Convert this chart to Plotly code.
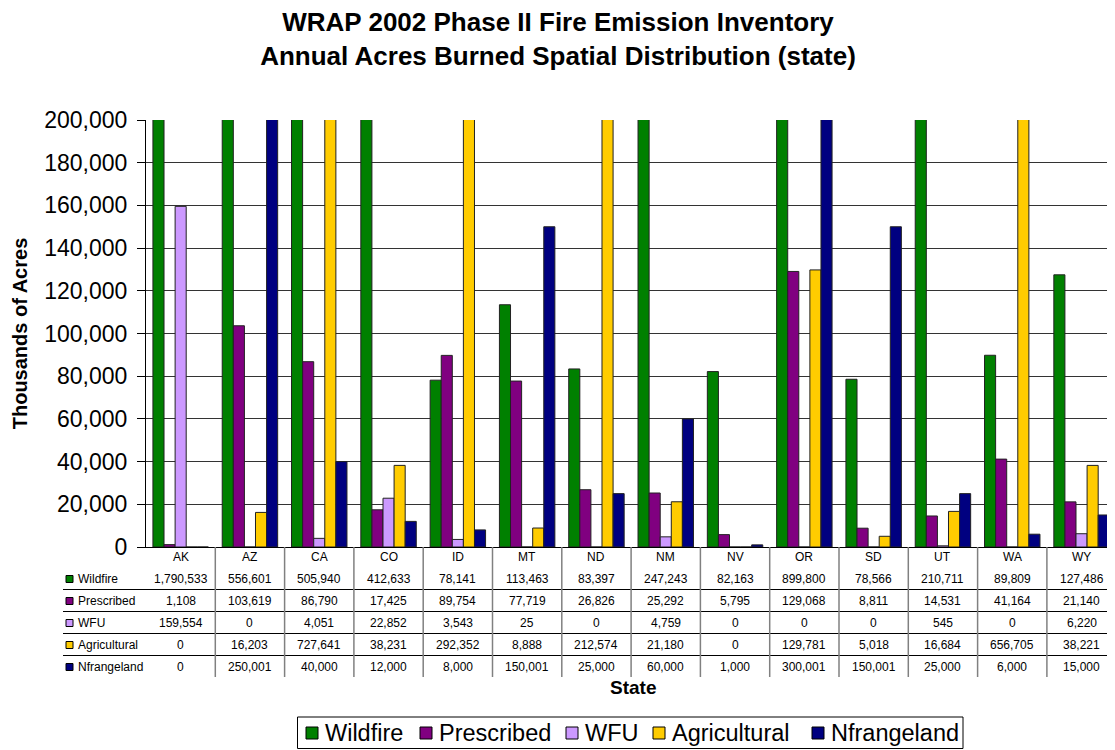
import plotly.graph_objects as go

states = ["AK", "AZ", "CA", "CO", "ID", "MT", "ND", "NM", "NV", "OR", "SD", "UT", "WA", "WY"]
wildfire = [1790533, 556601, 505940, 412633, 78141, 113463, 83397, 247243, 82163, 899800, 78566, 210711, 89809, 127486]
prescribed = [1108, 103619, 86790, 17425, 89754, 77719, 26826, 25292, 5795, 129068, 8811, 14531, 41164, 21140]
wfu = [159554, 0, 4051, 22852, 3543, 25, 0, 4759, 0, 0, 0, 545, 0, 6220]
agricultural = [0, 16203, 727641, 38231, 292352, 8888, 212574, 21180, 0, 129781, 5018, 16684, 656705, 38221]
nfrangeland = [0, 250001, 40000, 12000, 8000, 150001, 25000, 60000, 1000, 300001, 150001, 25000, 6000, 15000]

series_names = ["Wildfire", "Prescribed", "WFU", "Agricultural", "Nfrangeland"]
series_values = [wildfire, prescribed, wfu, agricultural, nfrangeland]
series_colors = ["#008000", "#800080", "#CC99FF", "#FFCC00", "#000080"]
y_ticks = [0, 20000, 40000, 60000, 80000, 100000, 120000, 140000, 160000, 180000, 200000]

FONT = "Liberation Sans, Arial, sans-serif"
OFF = 8                      # page body margin of the html page
W, H = 1115 - OFF, 750 - OFF
ML = 146 - OFF
MT = 120 - OFF
MB = H - (547 - OFF)
PLOT_H = H - MT - MB
PLOT_W = W - ML

def py(pix):
    # reference pixel y -> paper y
    return (547 - pix) / PLOT_H

def px(pix):
    # reference pixel x -> paper x
    return (pix - 146) / PLOT_W

fig = go.Figure()
x_idx = list(range(len(states)))
for name, vals, col in zip(series_names, series_values, series_colors):
    fig.add_trace(go.Bar(
        x=x_idx, y=vals, name=name,
        marker=dict(color=col, line=dict(color="#222222", width=1)),
        showlegend=False,
    ))

cat_w = 69.3
x_max = -0.5 + (1115 - 146) / cat_w

fig.update_layout(
    width=W, height=H,
    margin=dict(l=ML, r=0, t=MT, b=MB, pad=0, autoexpand=False),
    paper_bgcolor="white", plot_bgcolor="white",
    barmode="group", bargap=0.2, bargroupgap=0,
    font=dict(family=FONT, color="black"),
    title=dict(
        text="<b>WRAP 2002 Phase II Fire Emission Inventory<br>Annual Acres Burned Spatial Distribution (state)</b>",
        x=(558 - OFF) / W, xanchor="center", xref="container",
        y=1 - 23 / H, yanchor="top", yref="container",
        font=dict(size=26, family=FONT, color="black"),
    ),
    xaxis=dict(
        range=[-0.5, x_max], showticklabels=False, showgrid=False,
        showline=True, linecolor="black", linewidth=1, ticks="", zeroline=False,
    ),
    yaxis=dict(
        range=[0, 200000], tickvals=y_ticks, tickformat=",d",
        showgrid=True, gridcolor="#333333", gridwidth=1,
        showline=True, linecolor="black", linewidth=1,
        ticks="outside", ticklen=8, tickcolor="black",
        tickfont=dict(size=23, family=FONT, color="black"),
        ticklabelstandoff=5,
        zeroline=False,
        title=dict(text="<b>Thousands of Acres</b>", font=dict(size=20, family=FONT, color="black"), standoff=11),
    ),
    showlegend=False,
)

annotations = []
shapes = []
tfont = dict(size=12, family=FONT, color="black")

# State header row
for i, s in enumerate(states):
    annotations.append(dict(x=i, y=py(557), xref="x", yref="paper", text=s, showarrow=False,
                            font=tfont, xanchor="center", yanchor="middle"))

row_centers = [579, 601, 623, 645, 667]
for r, (name, vals, col) in enumerate(zip(series_names, series_values, series_colors)):
    yc = py(row_centers[r])
    annotations.append(dict(x=px(76), y=yc, xref="paper", yref="paper", text=name, showarrow=False,
                            font=tfont, xanchor="left", yanchor="middle"))
    shapes.append(dict(type="rect", xref="paper", yref="paper",
                       x0=px(66), x1=px(73), y0=py(row_centers[r] + 3.5), y1=py(row_centers[r] - 3.5),
                       fillcolor=col, line=dict(color="black", width=1)))
    for i, v in enumerate(vals):
        annotations.append(dict(x=i, y=yc, xref="x", yref="paper", text=f"{v:,}", showarrow=False,
                                font=tfont, xanchor="center", yanchor="middle"))

# Table horizontal lines
for ly in [589.5, 611.5, 633.5, 655.5]:
    shapes.append(dict(type="line", xref="paper", yref="paper", x0=px(63), x1=1, y0=py(ly), y1=py(ly),
                       line=dict(color="black", width=1)))
# Table vertical lines at category boundaries
for i in range(len(states) - 1):
    shapes.append(dict(type="line", xref="x", yref="paper", x0=i + 0.5, x1=i + 0.5, y0=0, y1=py(677),
                       line=dict(color="#808080", width=1.5)))

annotations.append(dict(x=px(633), y=py(687), xref="paper", yref="paper", text="<b>State</b>", showarrow=False,
                        font=dict(size=19, family=FONT, color="black"), xanchor="center", yanchor="middle"))

# Legend box (series names and colours from the data lists)
legend_item_x = [306, 420, 566, 653, 812]
leg_y = 733
shapes.append(dict(type="rect", xref="paper", yref="paper", x0=px(297.5), x1=px(963), y0=py(717), y1=py(748.5),
                   fillcolor="white", line=dict(color="black", width=1), layer="below"))
for name, col, lx in zip(series_names, series_colors, legend_item_x):
    shapes.append(dict(type="rect", xref="paper", yref="paper", x0=px(lx), x1=px(lx + 12),
                       y0=py(leg_y + 6), y1=py(leg_y - 6), fillcolor=col, line=dict(color="black", width=1)))
    annotations.append(dict(x=px(lx + 17), y=py(leg_y), xref="paper", yref="paper", text=name, showarrow=False,
                            font=dict(size=23.5, family=FONT, color="black"), xanchor="left", yanchor="middle"))

fig.update_layout(annotations=annotations, shapes=shapes)
fig.write_html("out.html")
